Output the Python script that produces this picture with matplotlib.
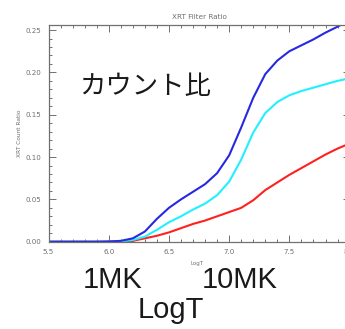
import numpy as np
import matplotlib
matplotlib.use('Agg')
import matplotlib.pyplot as plt
from matplotlib.ticker import MultipleLocator

# log temperature grid and filter count ratios
log_t = [5.5, 5.6, 5.7, 5.8, 5.9, 6.0, 6.1, 6.2, 6.3, 6.4, 6.5, 6.6, 6.7,
         6.8, 6.9, 7.0, 7.1, 7.2, 7.3, 7.4, 7.5, 7.6, 7.7, 7.8, 7.9, 8.0]
ratio_blue = [0.0, 0.0, 0.0, 0.0, 0.0, 0.0003, 0.001, 0.004, 0.012, 0.027,
              0.040, 0.050, 0.059, 0.068, 0.081, 0.102, 0.135, 0.170, 0.198,
              0.214, 0.225, 0.232, 0.239, 0.247, 0.254, 0.262]
ratio_cyan = [0.0, 0.0, 0.0, 0.0, 0.0, 0.0, 0.0005, 0.002, 0.006, 0.014,
              0.023, 0.030, 0.038, 0.045, 0.055, 0.071, 0.097, 0.129, 0.152,
              0.165, 0.173, 0.178, 0.182, 0.186, 0.190, 0.193]
ratio_red = [0.0, 0.0, 0.0, 0.0, 0.0, 0.0, 0.0, 0.001, 0.004, 0.007,
             0.011, 0.016, 0.021, 0.025, 0.030, 0.035, 0.040, 0.049, 0.061,
             0.070, 0.079, 0.087, 0.095, 0.103, 0.110, 0.116]

x_ticks = [5.5, 6.0, 6.5, 7.0, 7.5, 8.0]
y_ticks = [0.00, 0.05, 0.10, 0.15, 0.20, 0.25]

GRAY = '#707070'


def style_axes(ax):
    for side in ax.spines.values():
        side.set_color(GRAY)
        side.set_linewidth(0.9)
    ax.set_xticks(x_ticks)
    ax.set_yticks(y_ticks)
    ax.set_xticklabels([f'{v:.1f}' for v in x_ticks])
    ax.set_yticklabels([f'{v:.2f}' for v in y_ticks])
    ax.xaxis.set_minor_locator(MultipleLocator(0.1))
    ax.yaxis.set_minor_locator(MultipleLocator(0.01))
    ax.tick_params(which='both', direction='in', top=True, right=True,
                   color=GRAY, width=0.7, labelsize=5.1, labelcolor=GRAY)
    ax.tick_params(which='major', length=5, pad=5)
    ax.tick_params(which='minor', length=2.5)


fig = plt.figure(figsize=(3.45, 3.29), dpi=100)
ax = fig.add_axes([0.1406, 0.2653, 0.8727, 0.6587])

ax.plot(log_t, ratio_red, color='#ff2020', lw=1.5)
ax.plot(log_t, ratio_cyan, color='#20f0ff', lw=1.5)
ax.plot(log_t, ratio_blue, color='#2828e0', lw=1.5)

ax.set_xlim(5.5, 8.0)
ax.set_ylim(0.0, 0.256)
style_axes(ax)

ax.set_title('XRT Filter Ratio', fontsize=5.2, color=GRAY, pad=4)
ax.set_ylabel('XRT Count Ratio', fontsize=4.2, color=GRAY, labelpad=3)
fig.text(197 / 345, 1 - 263 / 329, 'LogT', fontsize=4, color=GRAY,
         ha='center', va='center')

# large annotations
fig.text(145 / 345, 1 - 87 / 329, 'カウント比', fontsize=19,
         family=['Noto Sans CJK JP', 'DejaVu Sans'], color='#1a1a1a',
         ha='center', va='center')
fig.text(113 / 345, 1 - 288 / 329, '1MK', fontsize=21,
         family='Liberation Sans', color='#1a1a1a', ha='center', va='baseline')
fig.text(239.5 / 345, 1 - 288 / 329, '10MK', fontsize=21,
         family='Liberation Sans', color='#1a1a1a', ha='center', va='baseline')
fig.text(171 / 345, 1 - 318 / 329, 'LogT', fontsize=21,
         family='Liberation Sans', color='#1a1a1a', ha='center', va='baseline')

fig.savefig('out.png', dpi=100)
